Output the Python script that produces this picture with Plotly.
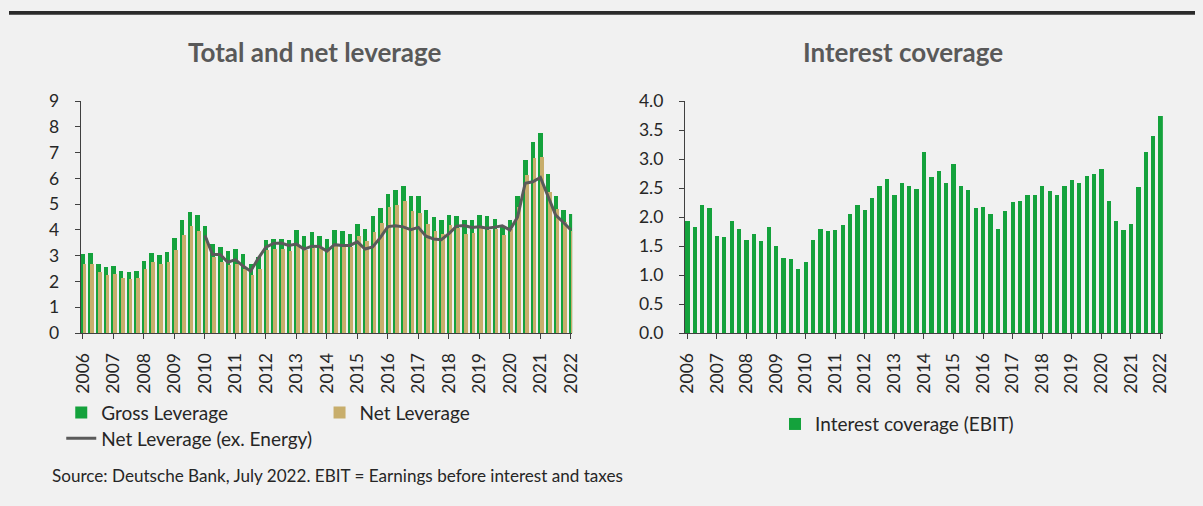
import plotly.graph_objects as go

# Quarterly observations, Q1 2006 through Q1 2022
years = list(range(2006, 2023))
year_labels = [str(y) for y in years]

gross_leverage = [
    3.05, 3.12, 2.69, 2.57, 2.60, 2.42, 2.38, 2.42,
    2.79, 3.10, 3.03, 3.14, 3.70, 4.37, 4.70, 4.56,
    4.15, 3.44, 3.33, 3.18, 3.25, 3.07, 2.69, 2.94,
    3.59, 3.66, 3.66, 3.59, 4.00, 3.77, 3.92, 3.75,
    3.66, 4.00, 3.96, 3.85, 4.22, 4.03, 4.52, 4.85,
    5.41, 5.56, 5.71, 5.30, 5.30, 4.78, 4.48, 4.37,
    4.59, 4.52, 4.37, 4.37, 4.59, 4.52, 4.42, 4.13,
    4.40, 5.33, 6.72, 7.40, 7.77, 6.17, 5.33, 4.78,
    4.63,
]

net_leverage = [
    2.69, 2.69, 2.36, 2.25, 2.30, 2.13, 2.10, 2.13,
    2.50, 2.77, 2.66, 2.77, 3.21, 3.81, 4.15, 3.96,
    3.70, 2.93, 2.77, 2.62, 2.69, 2.50, 2.25, 2.50,
    3.21, 3.25, 3.25, 3.18, 3.36, 3.21, 3.29, 3.30,
    3.20, 3.43, 3.43, 3.33, 3.75, 3.57, 3.92, 4.26,
    4.87, 4.97, 5.11, 4.75, 4.67, 4.22, 3.95, 3.85,
    4.17, 4.07, 3.85, 3.89, 4.07, 3.98, 4.05, 3.80,
    4.05, 4.87, 6.14, 6.80, 6.83, 5.45, 4.81, 4.32,
    3.95,
]

# Series starts in Q1 2010
net_leverage_ex_energy = [None] * 16 + [
    3.79, 3.05, 3.05, 2.75, 2.85, 2.60, 2.40, 2.90,
    3.33, 3.48, 3.49, 3.40, 3.45, 3.26, 3.37, 3.36,
    3.18, 3.43, 3.40, 3.40, 3.54, 3.26, 3.34, 3.70,
    4.13, 4.16, 4.12, 4.01, 4.10, 3.76, 3.65, 3.62,
    3.86, 4.15, 4.17, 4.10, 4.12, 4.07, 4.11, 4.16,
    4.00, 4.50, 5.81, 5.87, 6.04, 5.30, 4.58, 4.30,
    4.00,
]

interest_coverage = [
    1.93, 1.83, 2.20, 2.15, 1.68, 1.65, 1.93, 1.80,
    1.60, 1.70, 1.58, 1.83, 1.50, 1.30, 1.28, 1.11,
    1.23, 1.60, 1.80, 1.75, 1.78, 1.86, 2.05, 2.21,
    2.12, 2.33, 2.53, 2.66, 2.38, 2.59, 2.53, 2.49,
    3.12, 2.69, 2.79, 2.58, 2.91, 2.53, 2.46, 2.16,
    2.18, 2.05, 1.80, 2.11, 2.25, 2.28, 2.38, 2.38,
    2.53, 2.44, 2.38, 2.54, 2.63, 2.58, 2.71, 2.74,
    2.82, 2.28, 1.93, 1.78, 1.88, 2.51, 3.12, 3.39,
    3.74,
]

quarters = [2006 + 0.25 * i for i in range(len(gross_leverage))]

GREEN = "#14a23c"
TAN = "#c8ae6c"
LINE = "#5a5a5a"
AXIS = "#404040"
TEXT = "#262626"
BG = "#f1f1f1"
FONT = "Lato"

W, H = 1203, 506


def px_x(p):
    """Pixel column -> paper fraction."""
    return p / W


def px_y(p):
    """Pixel row (from top) -> paper fraction."""
    return 1 - p / H


fig = go.Figure()

fig.add_trace(go.Bar(
    x=quarters, y=gross_leverage, name="Gross Leverage",
    marker=dict(color=GREEN, line=dict(width=0)),
    width=0.145, offset=-0.075,
    xaxis="x", yaxis="y", legend="legend",
))
fig.add_trace(go.Bar(
    x=quarters, y=net_leverage, name="Net Leverage",
    marker=dict(color=TAN, line=dict(width=0)),
    width=0.12, offset=-0.01,
    xaxis="x", yaxis="y", legend="legend2",
))
fig.add_trace(go.Scatter(
    x=quarters, y=net_leverage_ex_energy, name="Net Leverage (ex. Energy)",
    mode="lines", line=dict(color=LINE, width=3),
    connectgaps=False,
    xaxis="x", yaxis="y", legend="legend3",
))
fig.add_trace(go.Bar(
    x=quarters, y=interest_coverage, name="Interest coverage (EBIT)",
    marker=dict(color=GREEN, line=dict(width=0)),
    width=0.145, offset=-0.0725,
    xaxis="x2", yaxis="y2", legend="legend4",
))

axis_common = dict(
    showgrid=False, zeroline=False, showline=True,
    linecolor=AXIS, linewidth=1,
    ticks="outside", ticklen=5, tickcolor=AXIS, tickwidth=1,
)
xfont = dict(family=FONT, size=17.5, color=TEXT)
yfont = dict(family=FONT, size=17.5, color=TEXT)
legfont = dict(family=FONT, size=19, color=TEXT)

y_dom = [px_y(336), px_y(94)]


def legend_at(text_left, row_y):
    # legend item text starts 40px right of the legend's left edge
    return dict(x=px_x(text_left - 40), y=px_y(row_y),
                xanchor="left", yanchor="middle",
                bgcolor="rgba(0,0,0,0)", borderwidth=0, font=legfont)


fig.update_layout(
    width=W, height=H,
    margin=dict(l=0, r=0, t=0, b=0),
    paper_bgcolor=BG, plot_bgcolor=BG,
    barmode="overlay",
    bargap=0,
    showlegend=True,
    font=dict(family=FONT, color=TEXT),
    xaxis=dict(
        domain=[px_x(72.8), px_x(571.2)],
        range=[2005.93, 2022.04],
        tickvals=years, ticktext=year_labels, tickangle=-90,
        anchor="y", ticklabelstandoff=7, tickfont=xfont,
        **axis_common,
    ),
    yaxis=dict(
        domain=y_dom, range=[0, 9], dtick=1,
        anchor="x", ticklabelstandoff=12, tickfont=yfont,
        **axis_common,
    ),
    xaxis2=dict(
        domain=[px_x(685.6), px_x(1170.4)],
        range=[2005.92, 2022.08],
        tickvals=years, ticktext=year_labels, tickangle=-90,
        anchor="y2", ticklabelstandoff=7, tickfont=xfont,
        **axis_common,
    ),
    yaxis2=dict(
        domain=y_dom, range=[0, 4], dtick=0.5, tickformat=".1f",
        anchor="x2", ticklabelstandoff=12, tickfont=yfont,
        **axis_common,
    ),
    legend=legend_at(93, 419),
    legend2=legend_at(355, 419),
    legend3=legend_at(93, 446),
    legend4=legend_at(817, 431),
    shapes=[
        dict(type="rect", xref="paper", yref="paper",
             x0=0, x1=1, y0=px_y(4), y1=1,
             fillcolor="#2a2a2a", line=dict(width=0), layer="above"),
    ],
    annotations=[
        dict(text="<b>Total and net leverage</b>", x=px_x(310), y=px_y(43),
             xref="paper", yref="paper", xanchor="center", yanchor="middle",
             showarrow=False, font=dict(family=FONT, size=26, color="#595959")),
        dict(text="<b>Interest coverage</b>", x=px_x(907), y=px_y(43),
             xref="paper", yref="paper", xanchor="center", yanchor="middle",
             showarrow=False, font=dict(family=FONT, size=26, color="#595959")),
        dict(text="Source: Deutsche Bank, July 2022. EBIT = Earnings before interest and taxes",
             x=px_x(42), y=px_y(485), xref="paper", yref="paper",
             xanchor="left", yanchor="middle", showarrow=False,
             font=dict(family=FONT, size=17.1, color=TEXT)),
    ],
)

fig.write_html("out.html")
